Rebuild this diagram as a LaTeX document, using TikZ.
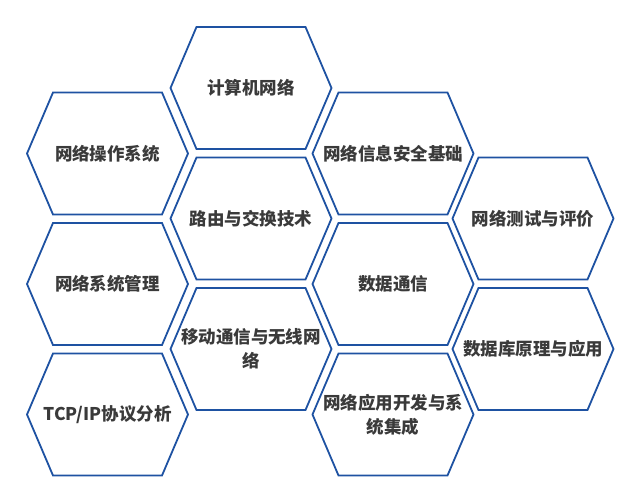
\documentclass[tikz,border=0pt]{standalone}
\usepackage{fontspec}
\newfontfamily\cjk{Noto Sans CJK SC}
\definecolor{hexblue}{RGB}{30,82,162}
\definecolor{labelgray}{RGB}{58,58,58}

\begin{document}
\begin{tikzpicture}[x=1pt, y=-1pt, cell/.style={align=center, inner sep=0pt, text=labelgray, font=\cjk\bfseries\fontsize{17.5}{24}\selectfont}, hexline/.style={draw=hexblue, line width=1.8pt, line join=miter}]

  \useasboundingbox (0,0) rectangle (641,504);

  % one hexagon per course, centres read off the grid of four columns
  \foreach \cx/\cy/\nm/\txt in {
      107.5/153.5/netos/{网络操作系统},
      107.5/284/netmgmt/{网络系统管理},
      107.5/414.5/tcpip/{TCP/IP协议分析},
      251/88/compnet/{计算机网络},
      251/218.5/routing/{路由与交换技术},
      251/349/wireless/{移动通信与无线网\\络},
      393/153.5/security/{网络信息安全基础},
      393/284/datacomm/{数据通信},
      393/414.5/netapp/{网络应用开发与系\\统集成},
      533/218.5/testing/{网络测试与评价},
      533/349/database/{数据库原理与应用}} {
    \node[cell] (\nm) at (\cx,\cy) {\txt};
    \draw[hexline] (\cx,\cy) ++(-80.5,0) -- ++(26,-61) -- ++(109,0) -- ++(26,61) -- ++(-26,61) -- ++(-109,0) -- cycle;
  }

\end{tikzpicture}
\end{document}
